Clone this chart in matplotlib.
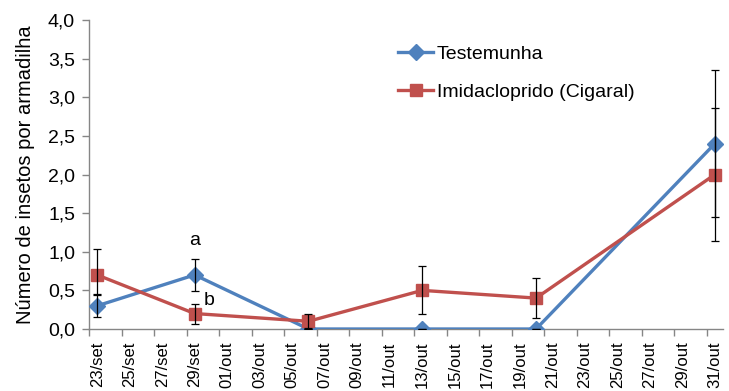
import pandas as pd
import numpy as np
import matplotlib
matplotlib.use("Agg")
import matplotlib.pyplot as plt
from matplotlib.ticker import FixedLocator

plt.rcParams['font.family'] = ['Liberation Sans', 'DejaVu Sans']

# datas de coleta
datas = ["2013-09-23", "2013-09-29", "2013-10-06", "2013-10-13", "2013-10-20", "2013-10-31"]

testemunha = [0.3, 0.7, 0.0, 0.0, 0.0, 2.4]
testemunha_err = [0.15, 0.21, 0.0, 0.0, 0.0, 0.95]

imidacloprido = [0.7, 0.2, 0.1, 0.5, 0.4, 2.0]
imidacloprido_err_baixo = [0.26, 0.13, 0.09, 0.31, 0.26, 0.86]
imidacloprido_err_cima = [0.33, 0.13, 0.09, 0.31, 0.26, 0.86]

meses = {9: "set", 10: "out"}

# -----------------------------
# eixo x em dias desde a primeira data
# -----------------------------
d = pd.to_datetime(datas)
inicio = d[0]
x = (d - inicio).days.values

ticks_datas = pd.date_range("2013-09-23", "2013-10-31", freq="2D")
ticks_x = (ticks_datas - inicio).days.values
ticks_lab = [f"{t.day:02d}/{meses[t.month]}" for t in ticks_datas]

azul = "#4F81BD"
vermelho = "#C0504D"
cinza = "#868686"

fig = plt.figure(figsize=(7.29, 3.91), dpi=100)
ax = fig.add_axes([89 / 729, 62 / 391, 634 / 729, 309 / 391])

ax.plot(x, testemunha, color=azul, lw=2.4, marker="D", ms=8, label="Testemunha", zorder=3)
ax.plot(x, imidacloprido, color=vermelho, lw=2.4, marker="s", ms=9, label="Imidacloprido (Cigaral)", zorder=3)

# barras de erro
ax.errorbar(x, testemunha, yerr=testemunha_err, fmt="none", ecolor="black", elinewidth=0.9,
            capsize=3, capthick=0.9, zorder=4)
ax.errorbar(x, imidacloprido, yerr=[imidacloprido_err_baixo, imidacloprido_err_cima], fmt="none",
            ecolor="black", elinewidth=0.9, capsize=3, capthick=0.9, zorder=4)

ax.text(x[1], 1.15, "a", fontsize=14, ha="center", va="center")
ax.text(x[1] + 0.9, 0.37, "b", fontsize=14, ha="center", va="center")

ax.set_xlim(-0.5, 38.5)
ax.set_ylim(0, 4.0)
ax.set_yticks(np.arange(0, 4.01, 0.5))
ax.set_yticklabels([f"{v:.1f}".replace(".", ",") for v in np.arange(0, 4.01, 0.5)])

ax.set_xticks(ticks_x)
ax.set_xticklabels(ticks_lab, rotation=90)
ax.xaxis.set_minor_locator(FixedLocator(ticks_x - 0.5))
ax.tick_params(axis="x", which="major", length=0, pad=9, labelsize=12)
ax.tick_params(axis="x", which="minor", length=5, color=cinza, width=1)
ax.tick_params(axis="y", length=5, color=cinza, width=1, labelsize=14, pad=5)

for s in ["top", "right"]:
    ax.spines[s].set_visible(False)
for s in ["left", "bottom"]:
    ax.spines[s].set_color(cinza)
    ax.spines[s].set_linewidth(1)

ax.set_ylabel("Número de insetos por armadilha", fontsize=14.5, labelpad=9)

fig.legend(loc="upper left", bbox_to_anchor=(398 / 729, 1 - 45 / 391), frameon=False,
           fontsize=14, handlelength=1.8, handletextpad=0.2, labelspacing=1.05,
           borderpad=0, borderaxespad=0)

plt.savefig("out.png", dpi=100)
plt.close()
